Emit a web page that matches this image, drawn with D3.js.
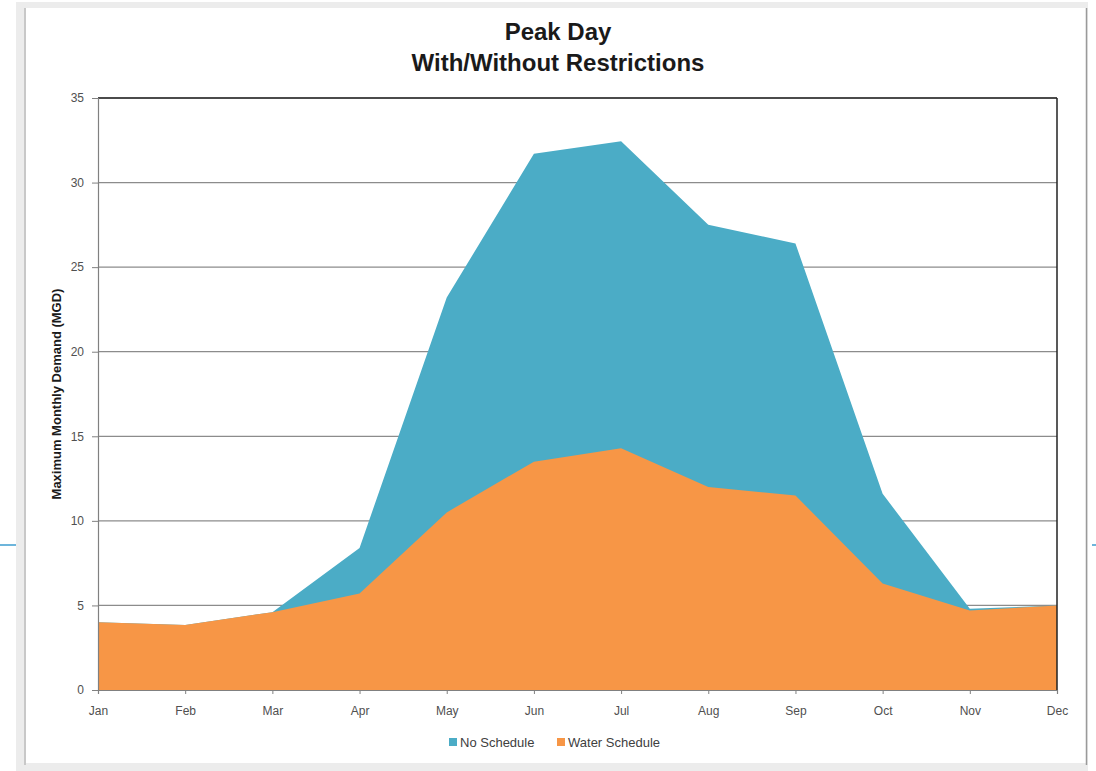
<!DOCTYPE html>
<html>
<head>
<meta charset="utf-8">
<script src="https://cdn.jsdelivr.net/npm/d3@7"></script>
<style>
  body { margin: 0; background: #fff; }
  svg { display: block; font-family: "Liberation Sans", Arial, sans-serif; }
</style>
</head>
<body>
<svg id="chart"></svg>
<script>
const months = ['Jan', 'Feb', 'Mar', 'Apr', 'May', 'Jun', 'Jul', 'Aug', 'Sep', 'Oct', 'Nov', 'Dec'];
const noSchedule = [4.0, 3.85, 4.6, 8.4, 23.2, 31.7, 32.45, 27.5, 26.4, 11.6, 4.8, 5.0];
const waterSchedule = [4.0, 3.85, 4.6, 5.7, 10.5, 13.5, 14.3, 12.0, 11.5, 6.3, 4.7, 5.0];
const yTicks = [0, 5, 10, 15, 20, 25, 30, 35];

const W = 1096, H = 771;
const svg = d3.select('#chart').attr('width', W).attr('height', H);

// window frame around the chart
svg.append('rect').attr('x', 16).attr('y', 2).attr('width', 1072).attr('height', H).attr('fill', '#ececec');
svg.append('rect').attr('x', 26).attr('y', 8).attr('width', 1060).attr('height', 755).attr('fill', '#fff');
svg.append('line').attr('x1', 25).attr('x2', 25).attr('y1', 8).attr('y2', 765).attr('stroke', '#c8c8c8').attr('stroke-width', 2);
svg.append('line').attr('x1', 1086.5).attr('x2', 1086.5).attr('y1', 8).attr('y2', 765).attr('stroke', '#9a9a9a').attr('stroke-width', 1.5);
svg.append('line').attr('x1', 0).attr('x2', 16).attr('y1', 545).attr('y2', 545).attr('stroke', '#3d9ccf').attr('stroke-width', 1.5);
svg.append('line').attr('x1', 1092).attr('x2', 1096).attr('y1', 545).attr('y2', 545).attr('stroke', '#3d9ccf').attr('stroke-width', 1.5);

const plotL = 98, plotR = 1057, plotT = 98, plotB = 690;

const x = d3.scalePoint().domain(months).range([plotL, plotR]);
const y = d3.scaleLinear().domain([0, 35]).range([plotB, plotT]);

// gridlines
svg.append('g')
  .selectAll('line')
  .data(yTicks.slice(1))
  .join('line')
  .attr('x1', plotL).attr('x2', plotR)
  .attr('y1', d => y(d)).attr('y2', d => y(d))
  .attr('stroke', '#8c8c8c').attr('stroke-width', 1.2);

const area = data => d3.area()
  .x((d, i) => x(months[i]))
  .y0(y(0))
  .y1(d => y(d))(data);

svg.append('path').attr('d', area(noSchedule)).attr('fill', '#4bacc6');
svg.append('path').attr('d', area(waterSchedule)).attr('fill', '#f79646');

// frame top and right
svg.append('line').attr('x1', plotL).attr('x2', plotR).attr('y1', plotT).attr('y2', plotT).attr('stroke', '#222').attr('stroke-width', 1.5);
svg.append('line').attr('x1', plotR).attr('x2', plotR).attr('y1', plotT).attr('y2', plotB).attr('stroke', '#222').attr('stroke-width', 1.5);

// y axis
const yAxis = svg.append('g')
  .attr('transform', `translate(${plotL},0)`)
  .call(d3.axisLeft(y).tickValues(yTicks).tickSize(6).tickPadding(8));
yAxis.select('.domain').attr('stroke', '#808080').attr('stroke-width', 1.2);
yAxis.selectAll('.tick line').attr('stroke', '#808080');
yAxis.selectAll('text').attr('font-size', 12).attr('fill', '#505050');

// x axis
const xAxis = svg.append('g')
  .attr('transform', `translate(0,${plotB})`)
  .call(d3.axisBottom(x).tickSize(4).tickPadding(12));
xAxis.select('.domain').attr('stroke', '#808080').attr('stroke-width', 1.2);
xAxis.selectAll('.tick line').attr('stroke', '#808080');
xAxis.selectAll('text').attr('font-size', 12).attr('fill', '#505050');

// titles
svg.append('text').attr('x', 558).attr('y', 40).attr('text-anchor', 'middle')
  .attr('font-size', 24).attr('font-weight', 'bold').attr('fill', '#1a1a1a').text('Peak Day');
svg.append('text').attr('x', 558).attr('y', 71).attr('text-anchor', 'middle')
  .attr('font-size', 24).attr('font-weight', 'bold').attr('fill', '#1a1a1a').text('With/Without Restrictions');

svg.append('text')
  .attr('transform', `translate(61,${(plotT + plotB) / 2}) rotate(-90)`)
  .attr('text-anchor', 'middle')
  .attr('font-size', 13).attr('font-weight', 'bold').attr('fill', '#1a1a1a')
  .text('Maximum Monthly Demand (MGD)');

// legend
const legendItems = [
  { name: 'No Schedule', color: '#4bacc6', x: 449 },
  { name: 'Water Schedule', color: '#f79646', x: 557 }
];
const lg = svg.append('g').selectAll('g').data(legendItems).join('g')
  .attr('transform', d => `translate(${d.x},743)`);
lg.append('rect').attr('x', 0).attr('y', -5).attr('width', 8).attr('height', 8).attr('fill', d => d.color);
lg.append('text').attr('x', 11).attr('y', 4).attr('font-size', 13).attr('fill', '#404040').text(d => d.name);
</script>
</body>
</html>
